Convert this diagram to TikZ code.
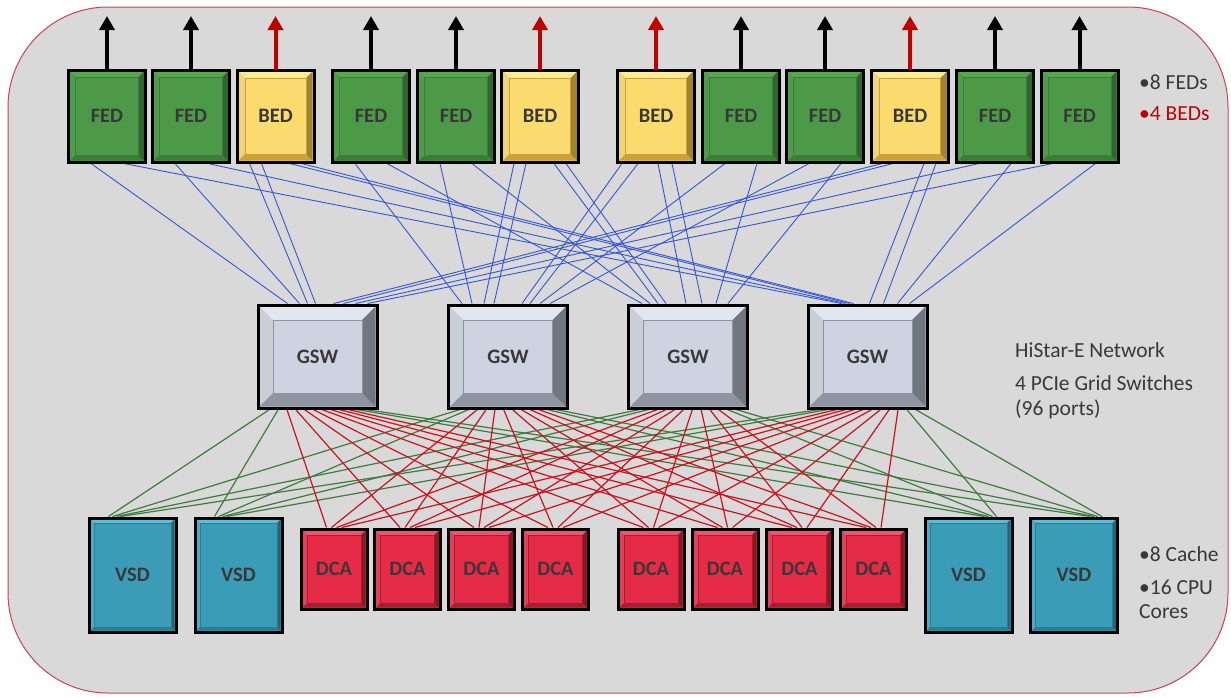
\documentclass[tikz,border=0pt]{standalone}
\usepackage{fontspec}
\setmainfont{Carlito}
\usetikzlibrary{calc,arrows.meta}
\definecolor{bgc}{HTML}{D9D9D9}
\definecolor{frame}{HTML}{D04050}
\definecolor{txt}{HTML}{383838}
\definecolor{fedc}{HTML}{4C9A47}\definecolor{fedl}{HTML}{58A653}\definecolor{fedd}{HTML}{3C7E38}
\definecolor{bedc}{HTML}{FBDB6E}\definecolor{bedl}{HTML}{FFEA95}\definecolor{bedd}{HTML}{C9A33A}
\definecolor{gswc}{HTML}{CDD3E0}\definecolor{gswl}{HTML}{E2E6EF}\definecolor{gswd}{HTML}{8E94A0}
\definecolor{vsdc}{HTML}{3A9CB6}\definecolor{vsdl}{HTML}{5EBCD6}\definecolor{vsdd}{HTML}{2C7D93}
\definecolor{dcac}{HTML}{E62B47}\definecolor{dcal}{HTML}{F2536C}\definecolor{dcad}{HTML}{A81E30}
\definecolor{linkb}{HTML}{3656D8}
\definecolor{linkg}{HTML}{3F7A3F}
\definecolor{linkr}{HTML}{D0101C}
\definecolor{bedarrow}{HTML}{C00000}
\newcommand\bev[4]{%
  \fill[#3] ($(#1.north west)+(1.5,1.5)$) -- ($(#1.north east)+(-1.5,1.5)$) -- ($(#1.north east)+(-#2,#2)$) -- ($(#1.north west)+(#2,#2)$) -- cycle;
  \fill[#3!70!#4] ($(#1.north west)+(1.5,1.5)$) -- ($(#1.north west)+(#2,#2)$) -- ($(#1.south west)+(#2,-#2)$) -- ($(#1.south west)+(1.5,-1.5)$) -- cycle;
  \fill[#4] ($(#1.south west)+(1.5,-1.5)$) -- ($(#1.south east)+(-1.5,-1.5)$) -- ($(#1.south east)+(-#2,-#2)$) -- ($(#1.south west)+(#2,-#2)$) -- cycle;
  \fill[#4!80!black] ($(#1.north east)+(-1.5,1.5)$) -- ($(#1.south east)+(-1.5,-1.5)$) -- ($(#1.south east)+(-#2,-#2)$) -- ($(#1.north east)+(-#2,#2)$) -- cycle;
  \draw[#4, line width=0.8] ($(#1.north west)+(#2,#2)$) rectangle ($(#1.south east)+(-#2,-#2)$);
  \draw[black, line width=3] (#1.north west) rectangle (#1.south east);
}
\tikzset{
  box/.style={draw=black, line width=3, outer sep=0pt, inner sep=0pt},
  lbl/.style={text=txt, font=\bfseries\fontsize{20.5}{22}\selectfont},
  fedbox/.style={box, fill=fedc, minimum width=77, minimum height=92},
  bedbox/.style={box, fill=bedc, minimum width=77, minimum height=92},
  gswbox/.style={box, fill=gswc, minimum width=119, minimum height=103},
  vsdbox/.style={box, fill=vsdc, minimum width=87, minimum height=114},
  dcabox/.style={box, fill=dcac, minimum width=66, minimum height=80},
  uparrow/.style={line width=4, -{Triangle[width=15,length=14]}},
  note/.style={anchor=west, text=txt, inner sep=0pt, font=\fontsize{21.5}{24}\selectfont},
  linkblue/.style={linkb, line width=0.9},
  linkgreen/.style={linkg, line width=1.2},
  linkred/.style={linkr, line width=1.2},
}
\begin{document}
\begin{tikzpicture}[x=1pt,y=-1pt]
\useasboundingbox (0,0) rectangle (1231,697);
\fill[white] (0,0) rectangle (1231,697);
\draw[frame, line width=1, fill=bgc, rounded corners=100] (8,7) rectangle (1228,693);

% top row
\foreach \n/\x/\k in {1/107/fed,2/191/fed,3/275.5/bed,4/371/fed,5/456/fed,6/540/bed,7/656/bed,8/741/fed,9/825/fed,10/910/bed,11/995/fed,12/1079.5/fed}{
  \node[\k box] (T\n) at (\x,116) {};
}
% GSW
\foreach \n/\x in {1/317.5,2/508,3/688,4/867.5}{
  \node[gswbox] (G\n) at (\x,356.5) {};
}
% bottom
\foreach \n/\x in {1/132.5,2/238.5,11/968.5,12/1074}{
  \node[vsdbox] (B\n) at (\x,575) {};
}
\foreach \n/\x in {3/334,4/407.5,5/481.5,6/555.5,7/651,8/725,9/799.5,10/873.5}{
  \node[dcabox] (B\n) at (\x,569) {};
}

% links top -> GSW
\foreach \s/\a/\g/\b in {
  1/-16/1/-30, 2/-16/1/-18, 3/-26/1/-10, 3/-14/1/-2,
  1/17/4/-26, 2/17/4/-22, 3/14/4/-18, 3/26/4/-14,
  4/-16/2/-46, 5/-16/2/-36, 6/-26/2/-24, 6/-14/2/-14,
  4/16/3/-46, 5/16/3/-38, 6/14/3/-30, 6/26/3/-22,
  7/2/3/-2, 7/16/3/14, 8/16/3/28, 9/16/3/40,
  7/-34/2/14, 7/-18/2/22, 8/-16/2/32, 9/-16/2/42,
  10/14/4/2, 10/26/4/16, 11/16/4/30, 12/16/4/42,
  10/-28/1/16, 10/-17/1/26, 11/-16/1/38, 12/-27/1/50}{
  \draw[linkblue] ($(T\s.south)+(\a,1.5)$) -- ($(G\g.north)+(\b,-1.5)$);
}
% links GSW -> bottom
\foreach \i in {1,2}{
  \foreach \j in {1,...,4}{
    \draw[linkgreen] ($(B\i.north)+({-24+(\j-1)*4},-1.5)$) -- ($(G\j.south)+({-48+(\i-1)*96/11},1.5)$);
  }
}
\foreach \i in {11,12}{
  \foreach \j in {1,...,4}{
    \draw[linkgreen] ($(B\i.north)+({16+(\j-1)*4},-1.5)$) -- ($(G\j.south)+({-48+(\i-1)*96/11},1.5)$);
  }
}
\foreach \i in {3,...,10}{
  \foreach \j in {1,...,4}{
    \draw[linkred] ($(B\i.north)+({(\j-2.5)*5},-1.5)$) -- ($(G\j.south)+({-48+(\i-1)*96/11},1.5)$);
  }
}

% bevels and labels
\foreach \n in {1,2,4,5,8,9,11,12}{
  \bev{T\n}{7}{fedl}{fedd}
  \node[lbl] at (T\n) {FED};
  \draw[uparrow, black] (T\n.north) -- ++(0,-54);
}
\foreach \n in {3,6,7,10}{
  \bev{T\n}{8}{bedl}{bedd}
  \node[lbl] at (T\n) {BED};
  \draw[uparrow, bedarrow] (T\n.north) -- ++(0,-54);
}
\foreach \n in {1,...,4}{
  \bev{G\n}{15}{gswl}{gswd}
  \node[lbl] at (G\n) {GSW};
}
\foreach \n in {1,2,11,12}{
  \bev{B\n}{5}{vsdl}{vsdd}
  \node[lbl] at (B\n) {VSD};
}
\foreach \n in {3,...,10}{
  \bev{B\n}{6}{dcal}{dcad}
  \node[lbl] at (B\n) {DCA};
}

% notes
\node[note] (n1) at (1139,82) {•8 FEDs};
\node[note, text=bedarrow] (n2) at (1139,114) {•4 BEDs};
\node[note] (n3) at (1015,350) {HiStar-E Network};
\node[note] (n4) at (1015,383) {4 PCIe Grid Switches};
\node[note] (n5) at (1015,409) {(96 ports)};
\node[note] (n6) at (1139,554) {•8 Cache};
\node[note] (n7) at (1139,587) {•16 CPU};
\node[note] (n8) at (1139,612) {Cores};
\end{tikzpicture}
\end{document}
